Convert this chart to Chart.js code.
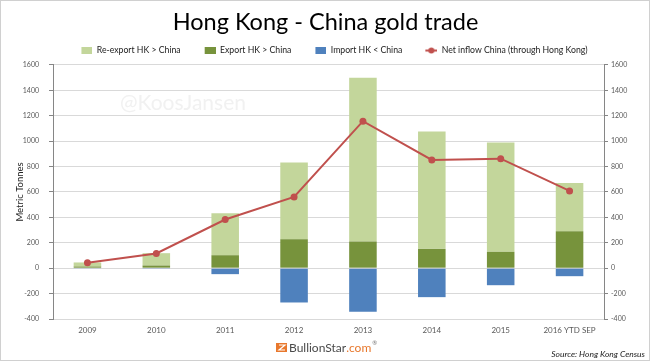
<!DOCTYPE html>
<html>
<head>
<meta charset="utf-8">
<script src="https://cdn.jsdelivr.net/npm/chart.js@4/dist/chart.umd.min.js"></script>
<style>
  html, body { margin: 0; padding: 0; background: #fff; }
  #wrap { width: 651px; height: 362px; }
</style>
</head>
<body>
<div id="wrap"><canvas id="c" width="651" height="362"></canvas></div>
<script>
// values (metric tonnes)
const years = ['2009', '2010', '2011', '2012', '2013', '2014', '2015', '2016 YTD SEP'];
const exportHK = [13, 21, 102, 228, 210, 152, 129, 290];
const reExportHK = [32, 97, 331, 604, 1288, 924, 861, 381];
const importHK = [-3, -2, -47, -270, -342, -228, -134, -63];
const netInflow = [42, 116, 383, 561, 1157, 852, 862, 608];

const legendOrder = ['Re-export HK > China', 'Export HK > China', 'Import HK < China', 'Net inflow China (through Hong Kong)'];

const FONT = 'Lato, "Noto Sans", sans-serif';
const tickColor = '#595959';
const ICON_W = 29; // legend symbol slot, symbol sits at its right end

// little legend symbols
function boxIcon(color) {
  const c = document.createElement('canvas');
  c.width = ICON_W; c.height = 7;
  const g = c.getContext('2d');
  g.fillStyle = color;
  g.fillRect(ICON_W - 11, 0, 11, 7);
  return c;
}
function lineIcon(color) {
  const c = document.createElement('canvas');
  c.width = ICON_W; c.height = 7;
  const g = c.getContext('2d');
  g.strokeStyle = color; g.lineWidth = 2;
  g.beginPath(); g.moveTo(ICON_W - 12, 3.5); g.lineTo(ICON_W, 3.5); g.stroke();
  g.fillStyle = color;
  g.beginPath(); g.arc(ICON_W - 6, 3.5, 3, 0, Math.PI * 2); g.fill();
  return c;
}

const decor = {
  id: 'decor',
  beforeDraw(chart) {
    const ctx = chart.ctx;
    ctx.save();
    ctx.fillStyle = '#fff';
    ctx.fillRect(0, 0, chart.width, chart.height);
    ctx.restore();
  },
  beforeDatasetsDraw(chart) {
    const ctx = chart.ctx;
    ctx.save();
    ctx.font = '21px ' + FONT;
    ctx.fillStyle = '#f1f1f1';
    ctx.textBaseline = 'middle';
    ctx.fillText('@KoosJansen', 120, 103);
    ctx.restore();
  },
  afterDraw(chart) {
    const ctx = chart.ctx;
    ctx.save();
    // outer frame
    ctx.strokeStyle = '#d0d0d0';
    ctx.lineWidth = 1;
    ctx.strokeRect(0.5, 0.5, 649, 360);

    // logo
    ctx.fillStyle = '#e8782d';
    ctx.fillRect(276, 343, 11, 9);
    ctx.beginPath();
    ctx.moveTo(279, 345); ctx.lineTo(285, 345); ctx.lineTo(279, 350); ctx.lineTo(285, 350);
    ctx.lineWidth = 1.2; ctx.strokeStyle = '#fff'; ctx.stroke();
    ctx.textBaseline = 'middle';
    ctx.font = '12px ' + FONT;
    ctx.fillStyle = '#4a4a4a';
    ctx.fillText('BullionStar', 289, 348);
    let w = ctx.measureText('BullionStar').width;
    ctx.fillStyle = '#e8782d';
    ctx.fillText('.com', 289 + w, 348);
    w += ctx.measureText('.com').width;
    ctx.font = '6px ' + FONT;
    ctx.fillStyle = '#777';
    ctx.fillText('®', 289 + w + 1, 343);

    // source
    ctx.font = 'italic 8.5px ' + FONT;
    ctx.fillStyle = '#222';
    ctx.textAlign = 'right';
    ctx.fillText('Source: Hong Kong Census', 645, 354);
    ctx.restore();
  }
};

new Chart(document.getElementById('c'), {
  data: {
    labels: years,
    datasets: [
      {
        type: 'line',
        label: 'Net inflow China (through Hong Kong)',
        data: netInflow,
        borderColor: '#c0504d',
        backgroundColor: '#c0504d',
        borderWidth: 2,
        pointRadius: 3.5,
        pointBackgroundColor: '#c0504d',
        pointBorderWidth: 0,
        tension: 0,
        stack: 'net',
        order: 0
      },
      {
        type: 'bar',
        label: 'Export HK > China',
        data: exportHK,
        backgroundColor: '#77933c',
        stack: 'trade',
        order: 1
      },
      {
        type: 'bar',
        label: 'Re-export HK > China',
        data: reExportHK,
        backgroundColor: '#c3d69b',
        stack: 'trade',
        order: 1
      },
      {
        type: 'bar',
        label: 'Import HK < China',
        data: importHK,
        backgroundColor: '#4f81bd',
        stack: 'trade',
        order: 1
      }
    ]
  },
  options: {
    responsive: false,
    animation: false,
    events: [],
    barPercentage: 0.4,
    categoryPercentage: 1,
    layout: { padding: { top: 2, left: 0, right: 0, bottom: 19 } },
    plugins: {
      tooltip: { enabled: false },
      title: {
        display: true,
        text: 'Hong Kong - China gold trade',
        color: '#000',
        font: { family: FONT, size: 23.5, weight: 'normal' },
        padding: { top: 6, bottom: 4 }
      },
      legend: {
        position: 'top',
        labels: {
          usePointStyle: true,
          pointStyleWidth: ICON_W,
          color: '#222',
          font: { family: FONT, size: 8.7 },
          padding: 6,
          generateLabels(chart) {
            const items = Chart.defaults.plugins.legend.labels.generateLabels(chart);
            items.forEach(it => {
              const ds = chart.data.datasets[it.datasetIndex];
              it.pointStyle = ds.type === 'line' ? lineIcon(ds.borderColor) : boxIcon(ds.backgroundColor);
            });
            return items;
          },
          sort: (a, b) => legendOrder.indexOf(a.text) - legendOrder.indexOf(b.text)
        }
      }
    },
    scales: {
      x: {
        stacked: true,
        grid: { display: false, drawTicks: false },
        border: { display: false },
        ticks: { color: tickColor, font: { family: FONT, size: 8 }, padding: 7, maxRotation: 0 },
        afterFit(s) { s.height = 24; }
      },
      y: {
        stacked: true,
        min: -400,
        max: 1600,
        position: 'left',
        ticks: { stepSize: 200, color: tickColor, font: { family: FONT, size: 7 }, padding: 10, callback: v => String(v) },
        grid: { color: '#d9d9d9', tickColor: '#868686', tickLength: 4 },
        border: { color: '#868686' },
        title: { display: true, text: 'Metric Tonnes', color: '#222', font: { family: FONT, size: 9.5 }, padding: { top: 14, bottom: 0 } },
        afterFit(s) { s.width = 53; }
      },
      y2: {
        min: -400,
        max: 1600,
        position: 'right',
        ticks: { stepSize: 200, color: tickColor, font: { family: FONT, size: 7 }, padding: 3, callback: v => String(v) },
        grid: { drawOnChartArea: false, tickColor: '#868686', tickLength: 4 },
        border: { color: '#868686' },
        afterFit(s) { s.width = 47; }
      }
    }
  },
  plugins: [decor]
});
</script>
</body>
</html>
